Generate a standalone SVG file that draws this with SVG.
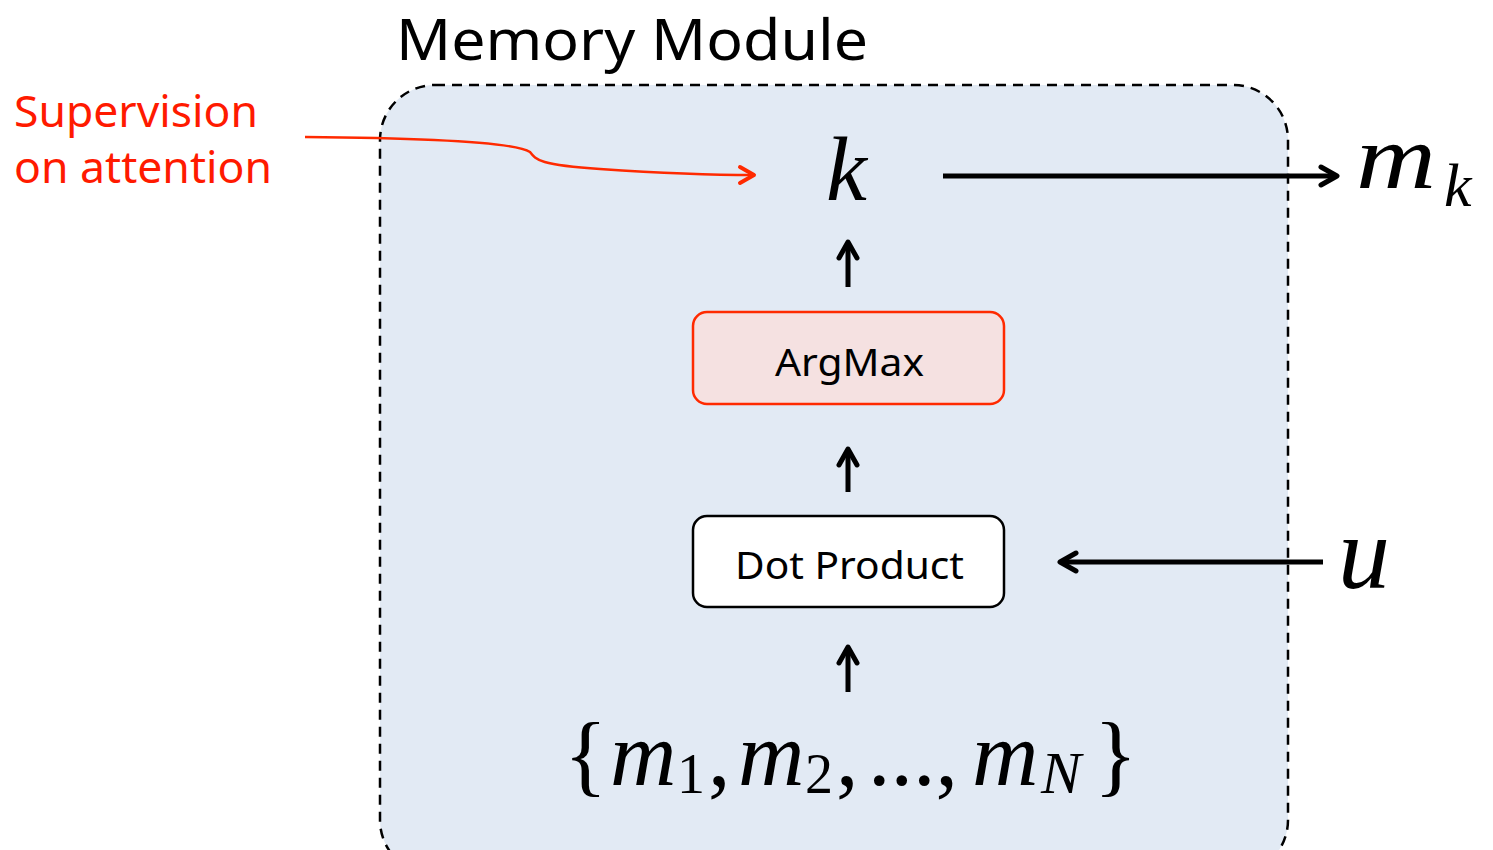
<svg xmlns="http://www.w3.org/2000/svg" width="1493" height="850" viewBox="0 0 1493 850">
<style>
.lbl{font-family:"Noto Sans",Lato,sans-serif;fill:#000}
.sup{font-family:"Noto Sans",Lato,sans-serif;fill:#ff1a00}
.math{font-family:"Liberation Serif","DejaVu Serif",serif;font-style:italic;fill:#000}
.rm{font-family:"Liberation Serif","DejaVu Serif",serif;fill:#000}
</style>
<defs>
<marker id="ahb" viewBox="0 0 24 24" refX="20" refY="12" markerWidth="24" markerHeight="24" orient="auto" markerUnits="userSpaceOnUse">
<path d="M4,3 L20,12 L4,21" fill="none" stroke="#000" stroke-width="5" stroke-linecap="round" stroke-linejoin="round"/>
</marker>
<marker id="ahr" viewBox="0 0 24 24" refX="20" refY="12" markerWidth="24" markerHeight="24" orient="auto" markerUnits="userSpaceOnUse">
<path d="M6,4 L20,12 L6,20" fill="none" stroke="#ff2a00" stroke-width="4" stroke-linecap="round" stroke-linejoin="round"/>
</marker>
</defs>
<rect width="1493" height="850" fill="#fff"/>
<g id="memory-module">
<rect x="380" y="85" width="908" height="790" rx="55" fill="#e2eaf4" stroke="#000" stroke-width="2.5" stroke-dasharray="10,7"/>
<text class="lbl" x="396" y="60" font-size="56" textLength="472" lengthAdjust="spacingAndGlyphs">Memory Module</text>
</g>
<g id="supervision">
<text class="sup" x="14" y="127" font-size="43" textLength="244" lengthAdjust="spacingAndGlyphs">Supervision</text>
<text class="sup" x="14" y="183" font-size="43" textLength="258" lengthAdjust="spacingAndGlyphs">on attention</text>
</g>
<g id="k"><text class="math" x="826" y="200" font-size="92">k</text></g>
<g id="mk"><text class="math" x="1356" y="188" font-size="92" textLength="80" lengthAdjust="spacingAndGlyphs">m</text><text class="math" x="1444" y="206" font-size="62">k</text></g>
<g id="argmax">
<rect x="693" y="312" width="311" height="92" rx="14" fill="#f5e1e1" stroke="#ff2a00" stroke-width="2.5"/>
<text class="lbl" x="775" y="376" font-size="38" textLength="149" lengthAdjust="spacingAndGlyphs">ArgMax</text>
</g>
<g id="dot-product">
<rect x="693" y="516" width="311" height="91" rx="14" fill="#fff" stroke="#000" stroke-width="2.5"/>
<text class="lbl" x="735" y="579" font-size="38" textLength="229" lengthAdjust="spacingAndGlyphs">Dot Product</text>
</g>
<g id="u"><text class="math" x="1338" y="588" font-size="104">u</text></g>
<g id="memories">
<text class="rm" x="564" y="785" font-size="90">{</text>
<text class="math" x="610" y="785" font-size="92">m</text>
<text class="rm" x="677" y="793" font-size="56">1</text>
<text class="rm" x="708" y="785" font-size="90">,</text>
<text class="math" x="738" y="785" font-size="92">m</text>
<text class="rm" x="805" y="793" font-size="56">2</text>
<text class="rm" x="836" y="785" font-size="90">,</text>
<text class="rm" x="868" y="785" font-size="90">...,</text>
<text class="math" x="972" y="785" font-size="92">m</text>
<text class="math" x="1041" y="793" font-size="60">N</text>
<text class="rm" x="1094" y="785" font-size="90">}</text>
</g>
<g id="connectors" fill="none">
<path d="M848,287 L848,242" stroke="#000" stroke-width="5" marker-end="url(#ahb)"/>
<path d="M848,492 L848,449" stroke="#000" stroke-width="5" marker-end="url(#ahb)"/>
<path d="M848,692 L848,647" stroke="#000" stroke-width="5" marker-end="url(#ahb)"/>
<path d="M943,176 L1337,176" stroke="#000" stroke-width="5" marker-end="url(#ahb)"/>
<path d="M1323,562 L1060,562" stroke="#000" stroke-width="5" marker-end="url(#ahb)"/>
<path d="M305,137 C420,138 515,142 530,152 C536,160 540,165 600,169 C660,173 720,175 754,175" stroke="#ff2a00" stroke-width="2.5" marker-end="url(#ahr)"/>
</g>
</svg>
